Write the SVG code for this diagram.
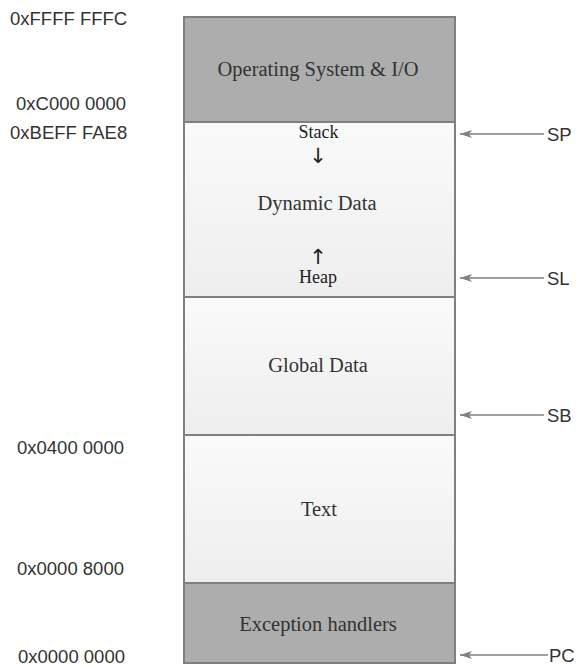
<svg xmlns="http://www.w3.org/2000/svg" width="577" height="666" viewBox="0 0 577 666">
<style>
.addr{font-family:"Liberation Sans",Arial,sans-serif;font-size:18.5px;fill:#333}
.lbl{font-family:"Liberation Serif","Times New Roman",serif;font-size:20.5px;fill:#333;text-anchor:middle}
.sm{font-family:"Liberation Serif","Times New Roman",serif;font-size:18px;fill:#222;text-anchor:middle}
.arr{font-family:"DejaVu Sans",sans-serif;font-size:21px;fill:#222;text-anchor:middle}
.reg{font-family:"Liberation Sans",Arial,sans-serif;font-size:18.5px;fill:#333}
.dark{fill:#adadad;stroke:#808080;stroke-width:2}
.light{fill:url(#g);stroke:#808080;stroke-width:2}
.ptr{stroke:#808080;stroke-width:1.3;fill:none;marker-end:url(#ah)}
</style>
<defs>
<linearGradient id="g" x1="0" y1="0" x2="0" y2="1">
<stop offset="0" stop-color="#fafafa"/>
<stop offset="1" stop-color="#eeeeee"/>
</linearGradient>
<marker id="ah" viewBox="0 0 12 10" refX="12" refY="5" markerWidth="12" markerHeight="10" orient="auto" markerUnits="userSpaceOnUse">
<path d="M0,1 L12,5 L0,9 L3,5 Z" fill="#808080"/>
</marker>
</defs>
<g id="addresses">
<text class="addr" x="10" y="25">0xFFFF FFFC</text>
<text class="addr" x="16" y="110">0xC000 0000</text>
<text class="addr" x="10" y="139">0xBEFF FAE8</text>
<text class="addr" x="17" y="454">0x0400 0000</text>
<text class="addr" x="17" y="575">0x0000 8000</text>
<text class="addr" x="18" y="663">0x0000 0000</text>
</g>
<g id="os">
<rect class="dark" x="184" y="17" width="271" height="105"/>
<text class="lbl" x="318" y="76">Operating System &amp; I/O</text>
</g>
<g id="dynamic">
<rect class="light" x="184" y="122" width="271" height="175"/>
<text class="sm" x="318.5" y="138">Stack</text>
<text class="arr" x="318" y="163">↓</text>
<text class="lbl" x="317" y="210">Dynamic Data</text>
<text class="arr" x="318" y="264">↑</text>
<text class="sm" x="318" y="283">Heap</text>
</g>
<g id="global">
<rect class="light" x="184" y="297" width="271" height="138"/>
<text class="lbl" x="318" y="372">Global Data</text>
</g>
<g id="text">
<rect class="light" x="184" y="435" width="271" height="148"/>
<text class="lbl" x="319" y="516">Text</text>
</g>
<g id="exception">
<rect class="dark" x="184" y="583" width="271" height="80"/>
<text class="lbl" x="318" y="631">Exception handlers</text>
</g>
<g id="connectors">
<line class="ptr" x1="544" y1="134" x2="460" y2="134"/>
<line class="ptr" x1="544" y1="278" x2="460" y2="278"/>
<line class="ptr" x1="544" y1="415" x2="460" y2="415"/>
<line class="ptr" x1="548" y1="655" x2="460" y2="655"/>
</g>
<g id="registers">
<text class="reg" x="547" y="141">SP</text>
<text class="reg" x="547" y="285">SL</text>
<text class="reg" x="547" y="422">SB</text>
<text class="reg" x="549" y="662">PC</text>
</g>
</svg>
